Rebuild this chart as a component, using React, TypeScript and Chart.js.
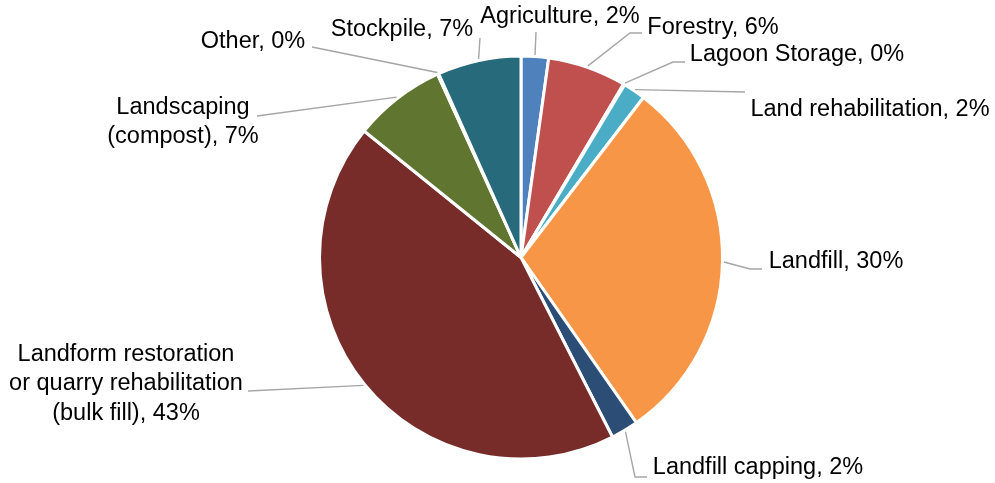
import React, { useEffect, useRef } from "react";
import { Chart, registerables } from "chart.js";

Chart.register(...registerables);

const categories = [
  "Agriculture",
  "Forestry",
  "Lagoon Storage",
  "Land rehabilitation",
  "Landfill",
  "Landfill capping",
  "Landform restoration\nor quarry rehabilitation\n(bulk fill)",
  "Landscaping\n(compost)",
  "Other",
  "Stockpile",
];

const shares = [2.2, 6.3, 0.1, 1.8, 29.9, 2.2, 43.3, 7.4, 0.1, 6.7];

const sliceColors = [
  "#4F81BD",
  "#C0504D",
  "#9BBB59",
  "#4BACC6",
  "#F79646",
  "#2C4D75",
  "#772C2A",
  "#5F7530",
  "#4D3B62",
  "#276A7C",
];

// Text block centre and leader-line bend points for each label
const labelLayout = [
  { x: 560, y: 17, path: [[536, 32]] },
  { x: 713, y: 28, path: [[630, 33], [642, 33]] },
  { x: 797, y: 55, path: [[673, 62], [685, 62]] },
  { x: 870, y: 110, path: [[745, 92]] },
  { x: 836, y: 262, path: [[750, 269], [762, 269]] },
  { x: 758, y: 468, path: [[635, 477], [647, 477]] },
  { x: 126, y: 384, path: [[248, 391]] },
  { x: 183, y: 122, path: [[257, 116]] },
  { x: 253, y: 42, path: [[312, 47]] },
  { x: 402, y: 30, path: [[480, 38]] },
];

const FONT = '23.5px "Liberation Sans", Arial, sans-serif';
const LINE_H = 29.5;

const outsideLabels = {
  id: "outsideLabels",
  afterDraw(chart: any) {
    const ctx = chart.ctx;
    const meta = chart.getDatasetMeta(0);
    const values = chart.data.datasets[0].data as number[];
    const total = values.reduce((a, b) => a + b, 0);
    ctx.save();
    meta.data.forEach((arc: any, i: number) => {
      const p = arc.getProps(["x", "y", "startAngle", "endAngle", "outerRadius"], true);
      const mid = (p.startAngle + p.endAngle) / 2;
      const r = p.outerRadius + 1.5;
      const sx = p.x + Math.cos(mid) * r;
      const sy = p.y + Math.sin(mid) * r;
      const lay = labelLayout[i];
      ctx.beginPath();
      ctx.strokeStyle = "#A6A6A6";
      ctx.lineWidth = 1.4;
      ctx.moveTo(sx, sy);
      lay.path.forEach((pt) => ctx.lineTo(pt[0], pt[1]));
      ctx.stroke();

      const pct = Math.round((values[i] / total) * 100);
      const lines = String(chart.data.labels[i]).split("\n");
      lines[lines.length - 1] = `${lines[lines.length - 1]}, ${pct}%`;
      ctx.font = FONT;
      ctx.fillStyle = "#000000";
      ctx.textAlign = "center";
      ctx.textBaseline = "middle";
      const y0 = lay.y - ((lines.length - 1) * LINE_H) / 2;
      lines.forEach((ln, k) => ctx.fillText(ln, lay.x, y0 + k * LINE_H));
    });
    ctx.restore();
  },
};

export default function App() {
  const ref = useRef<HTMLCanvasElement | null>(null);
  useEffect(() => {
    if (!ref.current) return;
    const chart = new Chart(ref.current, {
      type: "pie",
      data: {
        labels: categories,
        datasets: [
          {
            data: shares,
            backgroundColor: sliceColors,
            borderColor: "#FFFFFF",
            borderWidth: 3,
            radius: 201.5,
          } as any,
        ],
      },
      options: {
        responsive: false,
        animation: false,
        layout: { padding: { left: 47, top: 32, right: 0, bottom: 0 } },
        plugins: {
          legend: { display: false },
          tooltip: { enabled: false },
        },
      },
      plugins: [outsideLabels],
    });
    return () => chart.destroy();
  }, []);
  return (
    <div style={{ position: "absolute", left: 0, top: 0, width: 995, height: 483, background: "#fff" }}>
      <canvas ref={ref} width={995} height={483} style={{ display: "block" }} />
    </div>
  );
}
